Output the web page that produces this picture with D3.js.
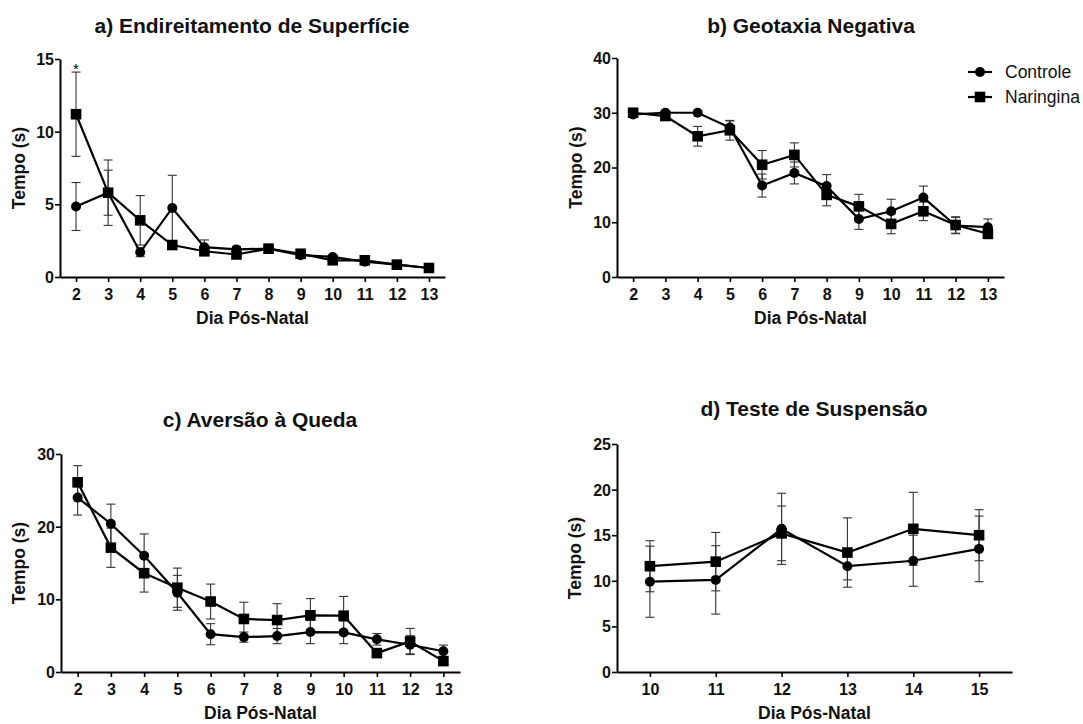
<!DOCTYPE html>
<html lang="pt">
<head>
<meta charset="UTF-8">
<title>Testes de desenvolvimento</title>
<script src="https://cdnjs.cloudflare.com/ajax/libs/d3/7.8.5/d3.min.js"></script>
<style>
  body { margin: 0; background: #fff; }
  svg { display: block; font-family: "Liberation Sans", Arial, sans-serif; }
  .title { font-size: 21px; font-weight: bold; text-anchor: middle; fill: #111; }
  .axis-label { font-size: 17.5px; font-weight: bold; text-anchor: middle; fill: #111; }
  .tick text { font-size: 16px; font-weight: bold; fill: #111; }
  .legend text { font-size: 17.5px; fill: #111; }
</style>
</head>
<body>
<svg id="chart" width="1083" height="724"></svg>
<script>
// a) Endireitamento de Superfície
const diasA = [2, 3, 4, 5, 6, 7, 8, 9, 10, 11, 12, 13];
const aControle      = [4.85, 5.8, 1.7, 4.75, 2.05, 1.9, 1.95, 1.5, 1.38, 1.05, 0.85, 0.62];
const aControleErr   = [1.65, 1.55, 0.3, 2.25, 0.5, 0.2, 0.2, 0.15, 0.15, 0.1, 0.1, 0.08];
const aNaringina     = [11.2, 5.8, 3.9, 2.2, 1.77, 1.55, 1.95, 1.6, 1.15, 1.15, 0.85, 0.62];
const aNaringinaErr  = [2.9, 2.25, 1.7, 0.3, 0.25, 0.2, 0.2, 0.15, 0.12, 0.1, 0.1, 0.08];
const aTicksY = [0, 5, 10, 15];

// b) Geotaxia Negativa
const diasB = [2, 3, 4, 5, 6, 7, 8, 9, 10, 11, 12, 13];
const bControle      = [29.7, 30.0, 30.0, 27.3, 16.7, 19.0, 16.6, 10.6, 12.0, 14.5, 9.4, 9.1];
const bControleErr   = [0.3, 0.2, 0.2, 1.2, 2.1, 2.0, 2.1, 1.9, 2.2, 2.1, 1.5, 1.5];
const bNaringina     = [30.0, 29.4, 25.7, 26.8, 20.5, 22.3, 15.0, 12.9, 9.7, 12.0, 9.5, 7.9];
const bNaringinaErr  = [0.3, 0.4, 1.8, 1.8, 2.6, 2.2, 2.0, 2.2, 1.8, 1.7, 1.5, 0.9];
const bTicksY = [0, 10, 20, 30, 40];

// c) Aversão à Queda
const diasC = [2, 3, 4, 5, 6, 7, 8, 9, 10, 11, 12, 13];
const cControle      = [24.0, 20.4, 16.0, 10.9, 5.2, 4.8, 4.95, 5.5, 5.45, 4.5, 3.75, 2.85];
const cControleErr   = [2.4, 2.7, 3.0, 2.4, 1.45, 0.7, 1.05, 1.6, 1.55, 0.8, 1.25, 0.85];
const cNaringina     = [26.1, 17.1, 13.6, 11.6, 9.7, 7.3, 7.15, 7.8, 7.75, 2.6, 4.2, 1.5];
const cNaringinaErr  = [2.3, 2.7, 2.6, 2.7, 2.4, 2.3, 2.25, 2.3, 2.65, 0.6, 1.8, 0.4];
const cTicksY = [0, 10, 20, 30];

// d) Teste de Suspensão
const diasD = [10, 11, 12, 13, 14, 15];
const dControle      = [9.9, 10.1, 15.7, 11.6, 12.2, 13.5];
const dControleErr   = [3.9, 3.75, 3.9, 1.5, 2.8, 3.6];
const dNaringina     = [11.6, 12.1, 15.2, 13.1, 15.7, 15.0];
const dNaringinaErr  = [2.8, 3.2, 3.0, 3.8, 4.0, 2.8];
const dTicksY = [0, 5, 10, 15, 20, 25];

const seriesNames = ["Controle", "Naringina"];

const panels = [
  { title: "a) Endireitamento de Superfície", dias: diasA, ctrl: aControle, ctrlErr: aControleErr,
    nar: aNaringina, narErr: aNaringinaErr, ticksY: aTicksY, yMax: 15, xDom: [1.5, 13.5],
    x0: 60, x1: 445, yTop: 59, yBot: 277, titleX: 252, titleY: 33, ylabX: 25, star: 2 },
  { title: "b) Geotaxia Negativa", dias: diasB, ctrl: bControle, ctrlErr: bControleErr,
    nar: bNaringina, narErr: bNaringinaErr, ticksY: bTicksY, yMax: 40, xDom: [1.5, 13.5],
    x0: 617, x1: 1004, yTop: 58, yBot: 277, titleX: 811, titleY: 33, ylabX: 582 },
  { title: "c) Aversão à Queda", dias: diasC, ctrl: cControle, ctrlErr: cControleErr,
    nar: cNaringina, narErr: cNaringinaErr, ticksY: cTicksY, yMax: 30, xDom: [1.5, 13.5],
    x0: 61, x1: 460, yTop: 454, yBot: 672, titleX: 260, titleY: 427, ylabX: 25 },
  { title: "d) Teste de Suspensão", dias: diasD, ctrl: dControle, ctrlErr: dControleErr,
    nar: dNaringina, narErr: dNaringinaErr, ticksY: dTicksY, yMax: 25, xDom: [9.5, 15.5],
    x0: 617, x1: 1012, yTop: 444, yBot: 672, titleX: 814, titleY: 416, ylabX: 581 }
];

const svg = d3.select("#chart");

function drawMarker(g, type, x, y) {
  if (type === "circle") {
    g.append("circle").attr("cx", x).attr("cy", y).attr("r", 5).attr("fill", "#000");
  } else {
    g.append("rect").attr("x", x - 5.3).attr("y", y - 5.3).attr("width", 10.6).attr("height", 10.6).attr("fill", "#000");
  }
}

panels.forEach(p => {
  const g = svg.append("g");
  const x = d3.scaleLinear().domain(p.xDom).range([p.x0, p.x1]);
  const y = d3.scaleLinear().domain([0, p.yMax]).range([p.yBot, p.yTop]);

  g.append("text").attr("class", "title").attr("x", p.titleX).attr("y", p.titleY).text(p.title);

  // axes
  const xAxis = g.append("g").attr("transform", `translate(0,${p.yBot})`)
    .call(d3.axisBottom(x).tickValues(p.dias).tickFormat(d3.format("d")).tickSize(5).tickSizeOuter(0));
  const yAxis = g.append("g").attr("transform", `translate(${p.x0},0)`)
    .call(d3.axisLeft(y).tickValues(p.ticksY).tickSize(5).tickSizeOuter(0));
  [xAxis, yAxis].forEach(a => {
    a.select(".domain").attr("stroke", "#000").attr("stroke-width", 2);
    a.selectAll(".tick line").attr("stroke", "#000").attr("stroke-width", 1.6);
  });
  xAxis.selectAll(".tick text").attr("y", 23).attr("dy", null);
  yAxis.selectAll(".tick text").attr("x", -6).attr("dy", "0.34em");

  g.append("text").attr("class", "axis-label").attr("x", (p.x0 + p.x1) / 2).attr("y", p.yBot + 47).text("Dia Pós-Natal");
  g.append("text").attr("class", "axis-label")
    .attr("transform", `translate(${p.ylabX},${(p.yTop + p.yBot) / 2}) rotate(-90)`).text("Tempo (s)");

  const groups = [
    { vals: p.ctrl, err: p.ctrlErr, marker: "circle" },
    { vals: p.nar, err: p.narErr, marker: "square" }
  ];

  // error bars
  groups.forEach(s => {
    s.vals.forEach((v, i) => {
      const cx = x(p.dias[i]);
      const yh = y(v + s.err[i]), yl = y(Math.max(0, v - s.err[i]));
      g.append("line").attr("x1", cx).attr("x2", cx).attr("y1", yh).attr("y2", yl)
        .attr("stroke", "#333").attr("stroke-width", 1.1);
      [yh, yl].forEach(yy => g.append("line").attr("x1", cx - 4.5).attr("x2", cx + 4.5)
        .attr("y1", yy).attr("y2", yy).attr("stroke", "#333").attr("stroke-width", 1.1));
    });
  });

  const line = d3.line().x((d, i) => x(p.dias[i])).y(d => y(d));
  groups.forEach(s => {
    g.append("path").datum(s.vals).attr("d", line).attr("fill", "none")
      .attr("stroke", "#000").attr("stroke-width", 2.2);
  });
  groups.forEach(s => {
    s.vals.forEach((v, i) => drawMarker(g, s.marker, x(p.dias[i]), y(v)));
  });

  if (p.star !== undefined) {
    const i = p.dias.indexOf(p.star);
    g.append("text").attr("x", x(p.star)).attr("y", y(p.nar[i] + p.narErr[i]) + 2)
      .attr("text-anchor", "middle").attr("font-size", 15).text("*");
  }
});

// legend (panel b)
const legend = svg.append("g").attr("class", "legend");
seriesNames.forEach((name, i) => {
  const ly = 72 + i * 25;
  legend.append("line").attr("x1", 968).attr("x2", 992).attr("y1", ly).attr("y2", ly)
    .attr("stroke", "#000").attr("stroke-width", 2.2);
  drawMarker(legend, i === 0 ? "circle" : "square", 980, ly);
  legend.append("text").attr("x", 1005).attr("y", ly + 6).text(name);
});
</script>
</body>
</html>
